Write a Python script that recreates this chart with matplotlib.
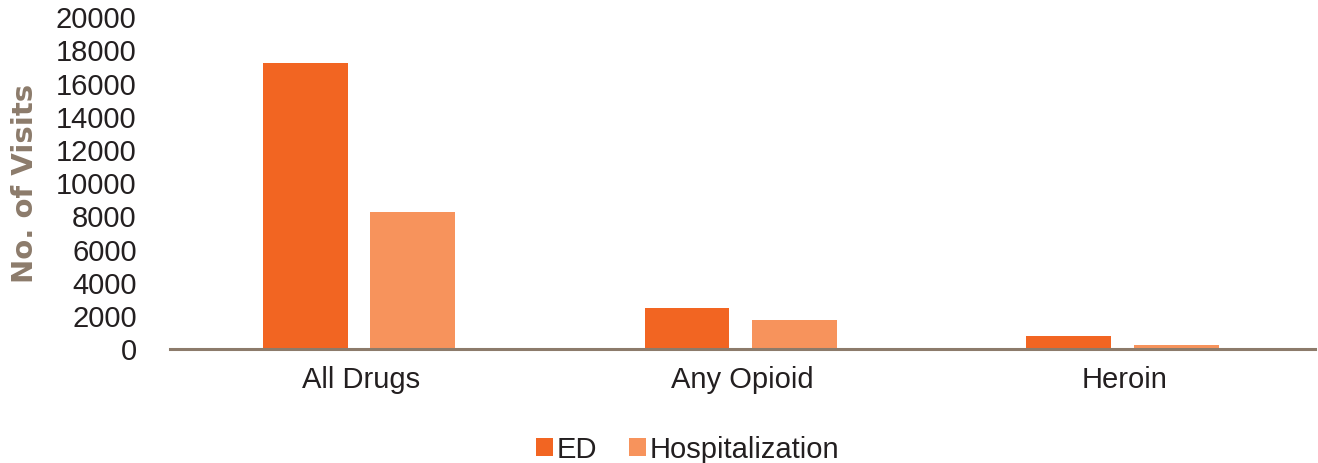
import matplotlib
matplotlib.use("Agg")
import matplotlib.pyplot as plt
import numpy as np

# data
categories = ["All Drugs", "Any Opioid", "Heroin"]
ed_visits = [17250, 2500, 800]
hosp_visits = [8250, 1750, 250]
series_names = ["ED", "Hospitalization"]

ED_COLOR = "#F26522"
HOSP_COLOR = "#F7935C"
AXIS_COLOR = "#8C7B6B"
TEXT_COLOR = "#231F20"

plt.rcParams["font.family"] = ["Liberation Sans", "DejaVu Sans"]

fig = plt.figure(figsize=(13.18, 4.63), dpi=100)
ax = fig.add_axes([0.129, 0.246, 0.869, 0.717])

x = np.arange(len(categories))
width = 0.222
offset = 0.141
ax.bar(x - offset - 0.005, ed_visits, width, color=ED_COLOR, label=series_names[0])
ax.bar(x + offset - 0.005, hosp_visits, width, color=HOSP_COLOR, label=series_names[1])

ax.set_xlim(-0.5, len(categories) - 0.5)
ax.set_ylim(0, 20000)
ax.set_yticks(np.arange(0, 20001, 2000))
ax.set_xticks(x)
ax.set_xticklabels(categories)

for side in ["top", "right", "left"]:
    ax.spines[side].set_visible(False)
ax.spines["bottom"].set_color(AXIS_COLOR)
ax.spines["bottom"].set_linewidth(2.2)

ax.tick_params(axis="y", length=0, labelsize=21, labelcolor=TEXT_COLOR, pad=24)
ax.tick_params(axis="x", length=0, labelsize=21, labelcolor=TEXT_COLOR, pad=12)

ax.set_ylabel("No. of Visits", fontsize=21, fontweight="bold", color=AXIS_COLOR,
              family="DejaVu Sans", labelpad=12)

leg = fig.legend(loc="lower center", bbox_to_anchor=(0.522, -0.058), ncol=2, frameon=False,
                 fontsize=21, handlelength=0.55, handleheight=0.55, handletextpad=0.15,
                 columnspacing=1.1)
for t in leg.get_texts():
    t.set_color(TEXT_COLOR)

fig.savefig("out.png", dpi=100)
